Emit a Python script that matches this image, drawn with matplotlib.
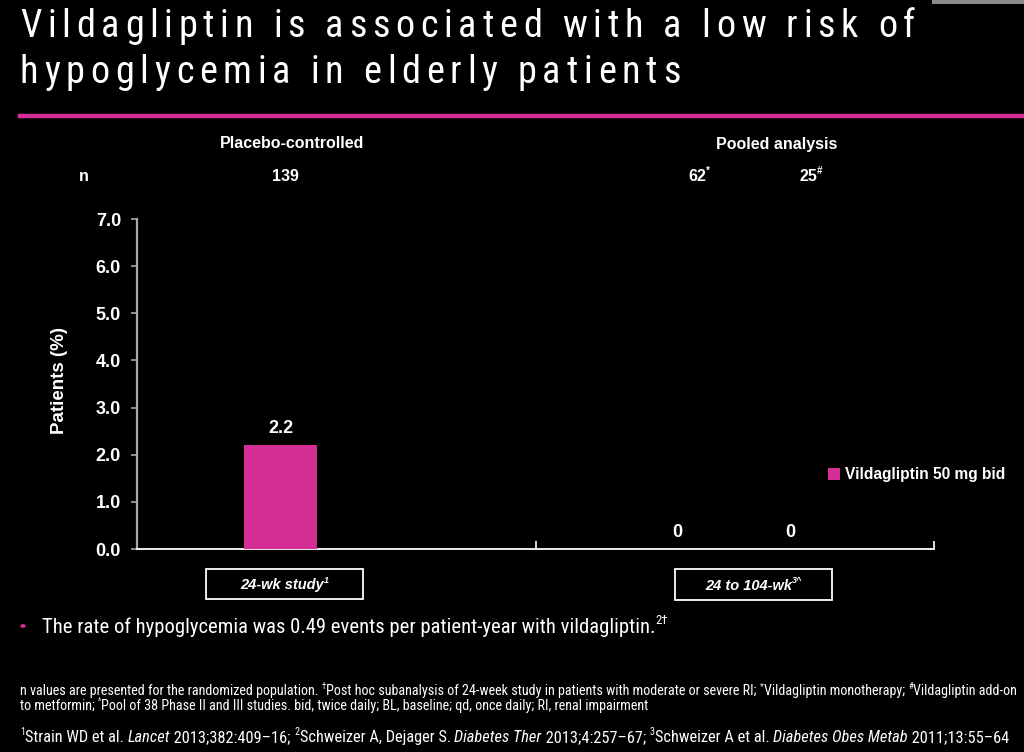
import matplotlib
matplotlib.use('Agg')
import matplotlib.pyplot as plt
from matplotlib import font_manager
from matplotlib.font_manager import FontProperties
from matplotlib.patches import Rectangle, Circle
from matplotlib.lines import Line2D

SANS = 'Liberation Sans'

# ---------------- data ----------------
title_lines = ["Vildagliptin is associated with a low risk of",
               "hypoglycemia in elderly patients"]
group_names = ["Placebo-controlled", "Pooled analysis"]
n_values = ["139", "62", "25"]
n_marks = ["", "*", "#"]
values = [2.2, 0, 0]
value_labels = ["2.2", "0", "0"]
yticks = [0, 1, 2, 3, 4, 5, 6, 7]
ytick_labels = ["0.0", "1.0", "2.0", "3.0", "4.0", "5.0", "6.0", "7.0"]
ylabel = "Patients (%)"
series_name = "Vildagliptin 50 mg bid"
study_names = ["24-wk study", "24 to 104-wk"]
study_refs = ["1", "3^"]
bullet_text = "The rate of hypoglycemia was 0.49 events per patient-year with vildagliptin."
bullet_ref = "2\u2020"

PINK = '#d42d93'
W, H = 1024, 752

# ---------------- pick a narrow sans font ----------------
def _is_cond(f):
    st = f.stretch
    if isinstance(st, str):
        if 'condensed' in st or 'narrow' in st:
            return True
    elif isinstance(st, (int, float)) and st < 500:
        return True
    return 'Narrow' in f.name or 'Condensed' in f.name

pref = ['Liberation Sans Narrow', 'Arial Narrow', 'Roboto Condensed', 'Noto Sans',
        'Open Sans', 'DejaVu Sans']
cands = [f for f in font_manager.fontManager.ttflist if _is_cond(f) and f.style == 'normal']
NARROW_FAMILY, NARROW_STRETCH = SANS, 'normal'
for p in pref:
    hits = [f for f in cands if f.name == p or f.name.startswith(p)]
    if hits:
        hits.sort(key=lambda f: 0 if (isinstance(f.stretch, str) and f.stretch in ('condensed', 'semi-condensed')) else 1)
        NARROW_FAMILY, NARROW_STRETCH = hits[0].name, hits[0].stretch
        break


def narrow_fp(size, weight='normal', style='normal'):
    return FontProperties(family=[NARROW_FAMILY, SANS], stretch=NARROW_STRETCH,
                          weight=weight, style=style, size=size)


def sans_fp(size, weight='normal', style='normal'):
    return FontProperties(family=[SANS], weight=weight, style=style, size=size)


fig = plt.figure(figsize=(W / 100, H / 100), dpi=100, facecolor='black')
R = fig.canvas.get_renderer()


def fx(x):
    return x / W


def fy(y):
    return 1 - y / H


def width(s, fp):
    a = fig.text(0, 0, '|' + s + '|', fontproperties=fp)
    b = fig.text(0, 0, '||', fontproperties=fp)
    w = a.get_window_extent(R).width - b.get_window_extent(R).width
    a.remove()
    b.remove()
    return w


def runs(x, y, parts, size, maker=narrow_fp, fit=None, ha='left', color='white'):
    """parts: list of (text, weight, style, sup)"""
    def fp_for(p, sz):
        t, wgt, sty, sup = p
        return maker(sz * (0.62 if sup else 1.0), wgt, sty)
    ws = [width(p[0], fp_for(p, size)) for p in parts]
    if fit is not None:
        size = size * fit / sum(ws)
        ws = [width(p[0], fp_for(p, size)) for p in parts]
    total = sum(ws)
    cx = x - total / 2 if ha == 'center' else x
    for p, w in zip(parts, ws):
        dy = 0.42 * size * 100 / 72 if p[3] else 0
        fig.text(fx(cx), fy(y - dy), p[0], ha='left', va='baseline', color=color,
                 fontproperties=fp_for(p, size))
        cx += w
    return size, cx


# ---------------- decorations ----------------
fig.add_artist(Rectangle((fx(932), fy(4)), fx(92), 4 / H, transform=fig.transFigure,
                         color='#8a8a8a', lw=0))
fig.add_artist(Line2D([fx(20), 1.0], [fy(115.5), fy(115.5)], transform=fig.transFigure,
                      color=PINK, lw=3.2))

# title with letter spacing
tfp = narrow_fp(27.5)
line_specs = [(title_lines[0], 37, 915), (title_lines[1], 83, 693)]
cws0 = [width(c, tfp) for c in title_lines[0]]
track = (line_specs[0][2] - 20 - sum(cws0)) / (len(title_lines[0]) - 1)
for text, yb, _ in line_specs:
    x = 20
    for c in text:
        if c != ' ':
            fig.text(fx(x), fy(yb), c, ha='left', va='baseline', color='white', fontproperties=tfp)
        x += width(c, tfp) + track

# ---------------- axes ----------------
ax = fig.add_axes([fx(137), fy(549), 797 / W, 330 / H])
ax.set_facecolor('black')
ax.set_xlim(0, 2)
ax.set_ylim(0, 7)
x_pos = [0.36, 1.355, 1.64]
bars = ax.bar(x_pos, values, width=0.183, color=PINK, label=series_name, zorder=3)
for xp, v, lab in zip(x_pos, values, value_labels):
    ax.annotate(lab, (xp, v), xytext=(0, 6), textcoords='offset points',
                ha='center', va='bottom', color='white', fontsize=13,
                fontweight='bold', family=SANS)

for s in ['top', 'right']:
    ax.spines[s].set_visible(False)
ax.spines['left'].set_color('#a8a8a8')
ax.spines['left'].set_linewidth(1.6)
ax.spines['bottom'].set_color('white')
ax.spines['bottom'].set_linewidth(1.3)
ax.set_yticks(yticks)
ax.set_yticklabels(ytick_labels)
ax.tick_params(axis='y', direction='out', length=4.5, width=1.2, color='#a8a8a8',
               labelcolor='white', labelsize=13, pad=7)
for t in ax.get_yticklabels():
    t.set_fontweight('bold')
    t.set_family(SANS)
ax.set_xticks([1.0, 2.0])
ax.set_xticklabels([])
ax.tick_params(axis='x', direction='in', length=6, width=1.2, color='white')

fig.text(fx(60), fy(381), ylabel, rotation=90, ha='center', va='center', color='white',
         fontsize=13.5, fontweight='bold', family=SANS)

# group headers & n row
fig.text(fx(292), fy(144), group_names[0], ha='center', va='center', color='white',
         fontsize=11.5, fontweight='bold', family=SANS)
fig.text(fx(777), fy(144), group_names[1], ha='center', va='center', color='white',
         fontsize=11.5, fontweight='bold', family=SANS)
fig.text(fx(84), fy(181), 'n', ha='center', va='baseline', color='white',
         fontsize=11.5, fontweight='bold', family=SANS)
n_x = [285, 699, 811]
for xc, nv, nm in zip(n_x, n_values, n_marks):
    parts = [(nv, 'bold', 'normal', False)]
    if nm:
        parts.append((nm, 'bold', 'normal', True))
    runs(xc, 181, parts, 11.5, maker=sans_fp, ha='center')

# legend
fig.legend(handles=[bars], labels=[series_name], loc='center left',
           bbox_to_anchor=(fx(828), fy(475)), frameon=False, handlelength=0.75,
           handleheight=0.75, handletextpad=0.35, borderpad=0, borderaxespad=0,
           prop=dict(family=SANS, weight='bold', size=11.2), labelcolor='white')

# study boxes
boxes = [(206, 569, 157, 30), (675, 569, 157, 31)]
for (bx, by, bw, bh), nm, rf in zip(boxes, study_names, study_refs):
    fig.add_artist(Rectangle((fx(bx), fy(by + bh)), bw / W, bh / H, transform=fig.transFigure,
                             facecolor='black', edgecolor='white', lw=1.3))
    runs(bx + bw / 2, by + bh / 2 + 5, [(nm, 'bold', 'italic', False),
                                         (rf, 'bold', 'italic', True)],
         10.5, maker=sans_fp, ha='center')

# bullet
fig.add_artist(Circle((fx(23), fy(626)), 2.6 / W, transform=fig.transFigure,
                      color=PINK, lw=0))
sz, endx = runs(42, 633, [(bullet_text, 'normal', 'normal', False)], 14, fit=616)
runs(endx - 0.5, 633, [(bullet_ref, 'normal', 'normal', True)], sz)

# footnotes
fn1 = [("n values are presented for the randomized population. ", 'normal', 'normal', False),
       ("\u2020", 'normal', 'normal', True),
       ("Post hoc subanalysis of 24-week study in patients with moderate or severe RI; ", 'normal', 'normal', False),
       ("*", 'normal', 'normal', True),
       ("Vildagliptin monotherapy; ", 'normal', 'normal', False),
       ("#", 'normal', 'normal', True),
       ("Vildagliptin add-on", 'normal', 'normal', False)]
fs, _ = runs(20, 695, fn1, 9, fit=1008)
fn2 = [("to metformin; ", 'normal', 'normal', False),
       ("^", 'normal', 'normal', True),
       ("Pool of 38 Phase II and III studies. bid, twice daily; BL, baseline; qd, once daily; RI, renal impairment",
        'normal', 'normal', False)]
runs(20, 710, fn2, fs)
refs = [("1", 'normal', 'normal', True), ("Strain WD et al. ", 'normal', 'normal', False),
        ("Lancet", 'normal', 'italic', False), (" 2013;382:409\u201316; ", 'normal', 'normal', False),
        ("2", 'normal', 'normal', True), ("Schweizer A, Dejager S. ", 'normal', 'normal', False),
        ("Diabetes Ther", 'normal', 'italic', False), (" 2013;4:257\u201367; ", 'normal', 'normal', False),
        ("3", 'normal', 'normal', True), ("Schweizer A et al. ", 'normal', 'normal', False),
        ("Diabetes Obes Metab", 'normal', 'italic', False), (" 2011;13:55\u201364", 'normal', 'normal', False)]
runs(20, 742, refs, 9.5, fit=996)

fig.savefig('out.png', dpi=100, facecolor='black')
